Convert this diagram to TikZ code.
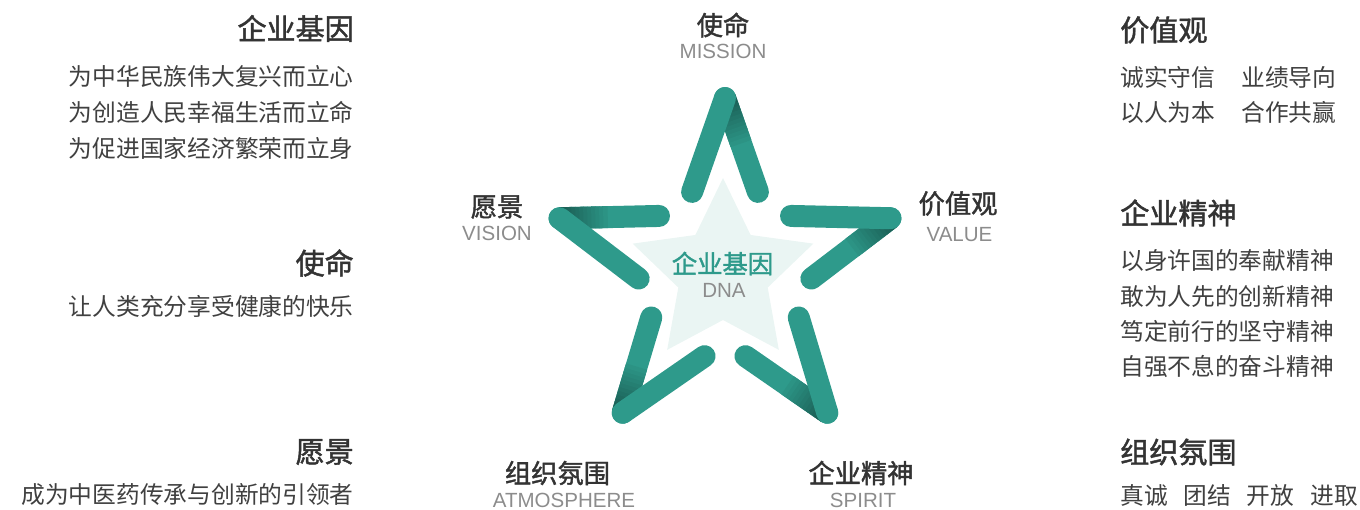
\documentclass[tikz,border=0pt]{standalone}
\usepackage{fontspec}
\setmainfont{Liberation Sans}
\newfontfamily\cjk{Noto Sans CJK SC}
\newfontfamily\cjkmid[FakeBold=1.6]{Noto Sans CJK SC}
\usetikzlibrary{calc}
\definecolor{starteal}{HTML}{2E9A8B}
\definecolor{stardark}{HTML}{1A5C53}
\definecolor{starpale}{HTML}{EAF5F3}
\definecolor{titlegray}{HTML}{333333}
\definecolor{bodygray}{HTML}{404040}
\definecolor{subgray}{HTML}{8C8C8C}
\tikzset{
  strand/.style={line width=16.5pt, line cap=round, draw=starteal},
  coltitle/.style={inner sep=0pt, text=titlegray, font=\cjkmid\fontsize{21.8}{26}\selectfont},
  colline/.style={inner sep=0pt, text=bodygray, font=\cjk\fontsize{17.8}{22}\selectfont},
  pointname/.style={inner sep=0pt, text=titlegray, font=\cjkmid\fontsize{19.7}{24}\selectfont},
  pointsub/.style={inner sep=0pt, text=subgray, font=\fontsize{15.4}{18}\selectfont},
}

\begin{document}
\begin{tikzpicture}[x=0.75pt, y=-0.75pt]
    \useasboundingbox (0,0) rectangle (1360,510);
    % star
    \begin{scope}[shift={(725,272)}, y=0.75pt]
        \fill[starpale, shift={(-2,-1)}] (90:95)
            \foreach \k in {0,...,4} { -- ({54-72*\k}:47) -- ({18-72*\k}:95) } -- cycle;
        \foreach \k in {0,...,4} {
            \pgfmathsetmacro\a{90-72*\k}
            \coordinate (tip\k) at (\a:174);
            \coordinate (under\k) at ($(tip\k)!0.8!({\a-36}:70)$);
            \coordinate (over\k) at ($(tip\k)!0.8!({\a+36}:70)$);
            \draw[strand] (tip\k) -- (under\k);
            \foreach \i in {0,...,11} {
                \pgfmathtruncatemacro\m{100-8*\i}
                \draw[strand, line cap=butt, draw=stardark!\m!starteal]
                    ($(tip\k)!{\i*0.04}!(under\k)$) -- ($(tip\k)!{\i*0.04+0.045}!(under\k)$);
            }
            \draw[strand] (over\k) -- (tip\k);
        }
    \end{scope}
    \node[pointname, text=starteal, font=\cjkmid\fontsize{19}{23}\selectfont] (core) at (722.5,263.5) {企业基因};
    \node[pointsub] (coresub) at (724,290) {DNA};
    % points of the star
    \node[pointname] (mission) at (723,25) {使命};
    \node[pointsub] (missionsub) at (723,51) {MISSION};
    \node[pointname] (vision) at (497,207) {愿景};
    \node[pointsub] (visionsub) at (497,233) {VISION};
    \node[pointname] (value) at (958,203.5) {价值观};
    \node[pointsub] (valuesub) at (959.5,234.5) {VALUE};
    \node[pointname] (atmos) at (557.5,473) {组织氛围};
    \node[pointsub] (atmossub) at (564,500) {ATMOSPHERE};
    \node[pointname] (spirit) at (861,473) {企业精神};
    \node[pointsub] (spiritsub) at (863,500) {SPIRIT};
    % left column
    \node[coltitle, anchor=east] (genetitle) at (354,28.5) {企业基因};
    \foreach \txt [count=\i] in {为中华民族伟大复兴而立心, 为创造人民幸福生活而立命, 为促进国家经济繁荣而立身}
        \node[colline, anchor=east] (gene\i) at (354,{40+36*\i}) {\txt};
    \node[coltitle, anchor=east] (missiontitle) at (354,263) {使命};
    \node[colline, anchor=east] (missionline) at (354,306) {让人类充分享受健康的快乐};
    \node[coltitle, anchor=east] (visiontitle) at (354,452) {愿景};
    \node[colline, anchor=east] (visionline) at (354,495) {成为中医药传承与创新的引领者};
    % right column
    \node[coltitle, anchor=west] (valuetitle) at (1120,30) {价值观};
    \node[colline, anchor=west] (value1) at (1120,77) {诚实守信\hspace{1.1em}业绩导向};
    \node[colline, anchor=west] (value2) at (1120,112) {以人为本\hspace{1.1em}合作共赢};
    \node[coltitle, anchor=west] (spirittitle) at (1120,213) {企业精神};
    \foreach \txt [count=\i] in {以身许国的奉献精神, 敢为人先的创新精神, 笃定前行的坚守精神, 自强不息的奋斗精神}
        \node[colline, anchor=west] (spirit\i) at (1120,{225.5+35.3*\i}) {\txt};
    \node[coltitle, anchor=west] (atmostitle) at (1120,452) {组织氛围};
    \node[colline, anchor=west] (atmosline) at (1120,496) {真诚\hspace{0.67em}团结\hspace{0.67em}开放\hspace{0.67em}进取};
\end{tikzpicture}
\end{document}
